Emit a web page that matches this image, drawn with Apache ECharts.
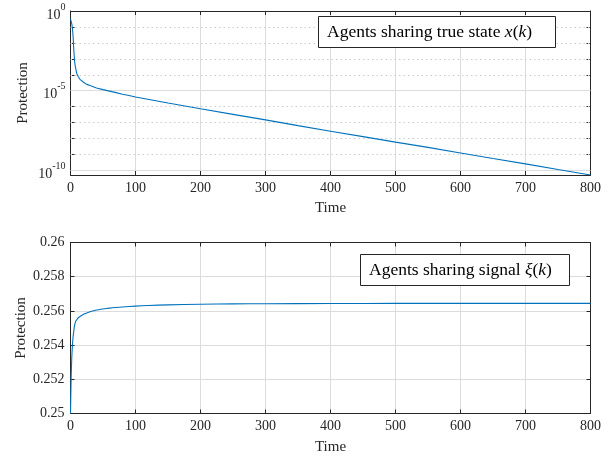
<!DOCTYPE html>
<html>
<head>
<meta charset="utf-8">
<script src="https://cdn.jsdelivr.net/npm/echarts@6/dist/echarts.min.js"></script>
<style>
html,body{margin:0;padding:0;background:#fff;}
#chart{width:615px;height:459px;}
</style>
</head>
<body>
<div id="chart"></div>
<script>
// ---- Data ----
const timeTrue = [0,1,2,3,4,5,6,7,8,9,10,12,15,20,25,30,40,50,60,70,80,90,100,150,200,250,300,350,400,450,500,550,600,650,700,750,800];
const protTrue = [3.16e-1,2.5e-1,1.58e-1,7.9e-2,2.5e-2,4.0e-3,1.0e-3,4.0e-4,2.5e-4,1.58e-4,1.12e-4,7.6e-5,5.0e-5,3.4e-5,2.5e-5,2.1e-5,1.5e-5,1.17e-5,9.5e-6,7.6e-6,6.0e-6,5.0e-6,4.0e-6,1.7e-6,7.4e-7,3.3e-7,1.48e-7,6.5e-8,2.9e-8,1.32e-8,6.0e-9,2.8e-9,1.26e-9,5.6e-10,2.6e-10,1.15e-10,5.2e-11];

const timeSignal = [0,1,2,3,4,5,6,8,10,12,15,20,25,30,40,50,60,70,80,100,120,150,200,250,300,400,500,600,700,800];
const protSignal = [0.2500,0.2521,0.2533,0.2540,0.2545,0.2548,0.2551,0.2554,0.2555,0.2556,0.25568,0.2558,0.25588,0.25595,0.25605,0.25611,0.25616,0.2562,0.25623,0.25628,0.25632,0.25635,0.25639,0.25641,0.25642,0.25643,0.25644,0.25644,0.25644,0.25644];

// tick values
const decadeTicks = [1,1e-1,1e-2,1e-3,1e-4,1e-5,1e-6,1e-7,1e-8,1e-9,1e-10];
const decadeLabels = [1,1e-5,1e-10];
const majorDecades = [1e-5,1e-10];
const minorDecades = [1e-1,1e-2,1e-3,1e-4,1e-6,1e-7,1e-8,1e-9];
const logMin = 5.2e-11, logMax = 1;
const timeMin = 0, timeMax = 800, timeStep = 100;
const sigMin = 0.25, sigMax = 0.26, sigStep = 0.002;

const legendTop = 'Agents sharing true state ';
const legendBottom = 'Agents sharing signal ';

// ---- Styling ----
const FONT = '"Liberation Serif", "DejaVu Serif", serif';
const AX = '#262626';
const GRID = '#dcdcdc';
const BLUE = '#0072BD';

const chart = echarts.init(document.getElementById('chart'), null, {renderer: 'canvas'});

function xAxisBase(grid, pos, showLabel, name){
  return {
    type: 'value', gridIndex: grid, position: pos,
    min: timeMin, max: timeMax, interval: timeStep,
    name: name || '', nameLocation: 'middle', nameGap: 26,
    nameMoveOverlap: false,
    nameTextStyle: {fontFamily: FONT, fontSize: 15, color: AX},
    axisLine: {show: true, onZero: false, lineStyle: {color: AX, width: 1}},
    axisTick: {show: true, inside: true, length: 4, lineStyle: {color: AX}},
    axisLabel: {show: showLabel, margin: 6, fontFamily: FONT, fontSize: 14, color: AX},
    splitLine: {show: showLabel, lineStyle: {color: GRID, width: 1}}
  };
}
function logYAxis(pos, showLabel){
  return {
    type: 'log', logBase: 10, gridIndex: 0, position: pos,
    min: logMin, max: logMax,
    name: showLabel ? 'Protection' : '', nameLocation: 'middle', nameGap: 40,
    nameMoveOverlap: false,
    nameTextStyle: {fontFamily: FONT, fontSize: 15, color: AX},
    axisLine: {show: true, onZero: false, lineStyle: {color: AX, width: 1}},
    axisTick: {show: true, inside: true, length: 4, customValues: decadeTicks, lineStyle: {color: AX}},
    axisLabel: {
      show: showLabel, margin: 5, customValues: decadeLabels,
      formatter: function(v){ return '{b|10}{s|' + Math.round(Math.log10(v)) + '}'; },
      rich: {
        b: {fontFamily: FONT, fontSize: 14, color: AX, lineHeight: 22, verticalAlign: 'bottom', padding: [3,0,0,0]},
        s: {fontFamily: FONT, fontSize: 10, color: AX, lineHeight: 10, verticalAlign: 'top', padding: [2,0,0,0]}
      }
    },
    splitLine: {show: false}
  };
}
function linYAxis(pos, showLabel){
  return {
    type: 'value', gridIndex: 1, position: pos,
    min: sigMin, max: sigMax, interval: sigStep,
    name: showLabel ? 'Protection' : '', nameLocation: 'middle', nameGap: 42,
    nameMoveOverlap: false,
    nameTextStyle: {fontFamily: FONT, fontSize: 15, color: AX},
    axisLine: {show: true, onZero: false, lineStyle: {color: AX, width: 1}},
    axisTick: {show: true, inside: true, length: 4, lineStyle: {color: AX}},
    axisLabel: {show: showLabel, margin: 6, fontFamily: FONT, fontSize: 14, color: AX},
    splitLine: {show: showLabel, lineStyle: {color: GRID, width: 1}}
  };
}

const option = {
  backgroundColor: '#fff',
  animation: false,
  grid: [
    {left: 70.5, top: 4.5, width: 520, height: 170.5},
    {left: 70.5, top: 242.5, width: 520, height: 171}
  ],
  xAxis: [
    xAxisBase(0, 'bottom', true, 'Time'),
    xAxisBase(0, 'top', false),
    xAxisBase(1, 'bottom', true, 'Time'),
    xAxisBase(1, 'top', false)
  ],
  yAxis: [
    logYAxis('left', true),
    logYAxis('right', false),
    linYAxis('left', true),
    linYAxis('right', false)
  ],
  series: [
    {
      type: 'line', xAxisIndex: 0, yAxisIndex: 0, z: 3,
      data: timeTrue.map((t, i) => [t, protTrue[i]]),
      showSymbol: false, symbol: 'none',
      lineStyle: {color: BLUE, width: 1.1},
      markLine: {
        silent: true, symbol: ['none', 'none'], z: 1, animation: false,
        precision: 15,
        label: {show: false},
        data: minorDecades.map(v => ({yAxis: v, lineStyle: {color: '#cccccc', type: [1.5, 3], width: 1}}))
          .concat(majorDecades.map(v => ({yAxis: v, lineStyle: {color: GRID, type: 'solid', width: 1}})))
      }
    },
    {
      type: 'line', xAxisIndex: 2, yAxisIndex: 2, z: 3,
      data: timeSignal.map((t, i) => [t, protSignal[i]]),
      showSymbol: false, symbol: 'none', smooth: 0.2,
      lineStyle: {color: BLUE, width: 1.1}
    }
  ],
  graphic: [
    {type: 'rect', z: 10, shape: {x: 318.5, y: 16.5, width: 237, height: 31},
     style: {fill: '#fff', stroke: AX, lineWidth: 1}},
    {type: 'text', z: 11, x: 327, y: 32,
     style: {
       text: '{n|' + legendTop + '}{i|x}{n|(}{i|k}{n|)}',
       verticalAlign: 'middle', align: 'left',
       rich: {
         n: {fontFamily: FONT, fontSize: 17.5, fill: '#000'},
         i: {fontFamily: FONT, fontSize: 17.5, fontStyle: 'italic', fill: '#000'}
       }
     }},
    {type: 'rect', z: 10, shape: {x: 360.5, y: 254.5, width: 209, height: 31},
     style: {fill: '#fff', stroke: AX, lineWidth: 1}},
    {type: 'text', z: 11, x: 369, y: 270,
     style: {
       text: '{n|' + legendBottom + '}{i|ξ}{n|(}{i|k}{n|)}',
       verticalAlign: 'middle', align: 'left',
       rich: {
         n: {fontFamily: FONT, fontSize: 17.5, fill: '#000'},
         i: {fontFamily: FONT, fontSize: 17.5, fontStyle: 'italic', fill: '#000'}
       }
     }}
  ]
};
chart.setOption(option);
</script>
</body>
</html>
